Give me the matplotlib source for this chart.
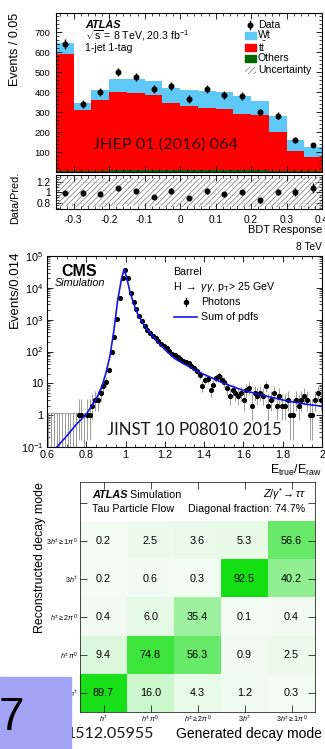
import numpy as np
import matplotlib
matplotlib.use('Agg')
import matplotlib.pyplot as plt
from matplotlib.colors import LinearSegmentedColormap
from matplotlib.patches import Rectangle
from matplotlib.lines import Line2D
from matplotlib.ticker import MultipleLocator, FixedLocator, NullFormatter, LogLocator

W, H = 325, 749

# ATLAS tW, BDT response in 1-jet 1-tag
bdt_edges = [-0.35, -0.30, -0.25, -0.20, -0.15, -0.10, -0.05, 0.0,
             0.05, 0.10, 0.15, 0.20, 0.25, 0.30, 0.35, 0.40]
bdt_others = [4, 4, 5, 12, 12, 12, 10, 8, 8, 8, 10, 12, 5, 4, 4]
bdt_ttbar = [586, 304, 355, 388, 383, 373, 335, 322, 312, 307, 280, 273, 195, 101, 71]
bdt_wt = [55, 37, 50, 65, 70, 70, 75, 80, 85, 85, 90, 70, 80, 55, 50]
bdt_data = [640, 340, 400, 500, 475, 415, 430, 365, 415, 385, 380, 300, 282, 160, 135]
bdt_unc = [0.27, 0.28, 0.28, 0.27, 0.27, 0.27, 0.28, 0.28, 0.28, 0.28, 0.28, 0.28, 0.28, 0.28, 0.30]
bdt_xlabels = ['-0.3', '-0.2', '-0.1', '0', '0.1', '0.2', '0.3', '0.4']

# CMS photon E_true/E_raw, 100 bins from 0.6 to 2.0
cms_counts = [0, 0, 0, 0, 0, 0, 0, 0, 0, 0,
              0, 1, 1, 0, 1, 1, 2, 3, 3, 5,
              8, 11, 27, 95, 290, 1050, 4800, 21000, 36000, 21000,
              7000, 3500, 2100, 1300, 880, 650, 490, 380, 315, 265,
              210, 175, 150, 125, 105, 85, 78, 68, 60, 52,
              46, 42, 36, 30, 24, 18, 8, 13, 14, 6,
              9, 15, 17, 13, 11, 7, 4, 6, 5, 4,
              5, 3, 6, 7, 2, 5, 4, 5, 4, 8,
              2, 3, 5, 2, 4, 2, 2, 3, 1, 1,
              3, 2, 3, 4, 3, 1, 1, 3, 5, 3]
cms_curve_x = [0.65, 0.70, 0.75, 0.80, 0.85, 0.88, 0.90, 0.92, 0.94, 0.96,
               0.98, 0.992, 1.005, 1.02, 1.04, 1.06, 1.08, 1.10, 1.15, 1.20,
               1.25, 1.30, 1.35, 1.40, 1.50, 1.60, 1.70, 1.80, 1.90, 2.00]
cms_curve_y = [0.1, 0.22, 0.52, 1.07, 3.2, 8.3, 21, 70, 430, 4200,
               20000, 38000, 22000, 8700, 3300, 1600, 950, 590, 250, 115,
               60, 40, 27, 19, 10, 6, 4.2, 3.0, 2.3, 1.9]
cms_xlabels = ['0.6', '0.8', '1', '1.2', '1.4', '1.6', '1.8', '2']
cms_ylabels = ['$10^{-1}$', '1', '10', '$10^{2}$', '$10^{3}$', '$10^{4}$', '$10^{5}$']

# ATLAS tau decay mode migration (rows: reconstructed, bottom to top)
modes = [r'$h^{\pm}$', r'$h^{\pm}\,\pi^{0}$', r'$h^{\pm}\geq2\pi^{0}$',
         r'$3h^{\pm}$', r'$3h^{\pm}\geq1\pi^{0}$']
migration = [[89.7, 16.0, 4.3, 1.2, 0.3],
             [9.4, 74.8, 56.3, 0.9, 2.5],
             [0.4, 6.0, 35.4, 0.1, 0.4],
             [0.2, 0.6, 0.3, 92.5, 40.2],
             [0.2, 2.5, 3.6, 5.3, 56.6]]

plt.rcParams['font.family'] = ['Liberation Sans', 'DejaVu Sans']
plt.rcParams['mathtext.fontset'] = 'custom'
plt.rcParams['mathtext.rm'] = 'Liberation Sans'
plt.rcParams['mathtext.it'] = 'Liberation Sans:italic'
plt.rcParams['mathtext.bf'] = 'Liberation Sans:bold'
plt.rcParams['axes.unicode_minus'] = False
plt.rcParams['hatch.linewidth'] = 0.5
plt.rcParams['axes.linewidth'] = 0.8

fig = plt.figure(figsize=(W / 100, H / 100), dpi=100)


def axes_px(x0, y0, x1, y1):
    return fig.add_axes([x0 / W, 1 - y1 / H, (x1 - x0) / W, (y1 - y0) / H])


def text_px(x, y, s, **kw):
    return fig.text(x / W, 1 - y / H, s, **kw)


def root_ticks(ax, size=6.5, pad=3.5):
    ax.tick_params(which='both', direction='in', top=True, right=True,
                   labelsize=size, pad=pad)
    ax.tick_params(which='major', length=4.5, width=0.6)
    ax.tick_params(which='minor', length=2.2, width=0.5)


# ---------------- top panel ----------------
edges = np.array(bdt_edges)
centers = 0.5 * (edges[1:] + edges[:-1])
oth = np.array(bdt_others, float)
tt = np.array(bdt_ttbar, float)
wt = np.array(bdt_wt, float)
data = np.array(bdt_data, float)
pred = oth + tt + wt

ax1 = axes_px(56, 13, 322, 172)
ax1.stairs(pred, edges, baseline=oth + tt, fill=True, color='#5ec8f6')
ax1.stairs(oth + tt, edges, baseline=oth, fill=True, color='#ff0000')
ax1.stairs(oth, edges, baseline=0, fill=True, color='#006600')
ax1.errorbar(centers, data, yerr=np.sqrt(data), fmt='o', color='k', ms=3.3,
             lw=1, capsize=0)
ax1.set_xlim(-0.35, 0.4)
ax1.set_ylim(0, 795)
ax1.xaxis.set_major_locator(MultipleLocator(0.1))
ax1.xaxis.set_minor_locator(MultipleLocator(0.02))
ax1.yaxis.set_major_locator(FixedLocator([100, 200, 300, 400, 500, 600, 700]))
ax1.yaxis.set_minor_locator(MultipleLocator(20))
root_ticks(ax1, 6.8, 4)
ax1.tick_params(labelbottom=False)
ax1.text(-0.04, 135, 'JHEP 01 (2016) 064', fontsize=11.7, family='Lato',
         color='#2a0000', ha='center', va='center')

text_px(85, 25, 'ATLAS', fontsize=7.8, weight='bold', style='italic', va='center')
text_px(85, 36, r'$\sqrt{\mathrm{s}}$ = 8 TeV, 20.3 fb$^{-1}$', fontsize=7.6, va='center')
text_px(85, 48, '1-jet 1-tag', fontsize=7.6, va='center')

leg_y = [25, 35, 47, 58, 70]
leg_lbl = ['Data', 'Wt', r'$\mathrm{t\bar{t}}$', 'Others', 'Uncertainty']
leg_col = [None, '#5ec8f6', '#ff0000', '#006600', None]
for yy, lb, col in zip(leg_y, leg_lbl, leg_col):
    text_px(258, yy, lb, fontsize=7.6, va='center')
    if lb == 'Data':
        fig.add_artist(Line2D([250 / W] * 2, [1 - (yy - 4) / H, 1 - (yy + 4) / H],
                              color='k', lw=1))
        fig.add_artist(Line2D([250 / W], [1 - yy / H], marker='o', ms=3.3, color='k'))
    elif col is not None:
        fig.add_artist(Rectangle((245 / W, 1 - (yy + 3.5) / H), 11 / W, 7 / H,
                                 transform=fig.transFigure, color=col))
    else:
        fig.add_artist(Rectangle((245 / W, 1 - (yy + 3.5) / H), 11 / W, 7 / H,
                                 transform=fig.transFigure, facecolor='none',
                                 edgecolor='#777777', hatch='//////', lw=0))

text_px(15, 13, 'Events / 0.05', fontsize=9, rotation=90, ha='center', va='top')

# ratio
ax2 = axes_px(56, 175, 322, 209)
unc = np.array(bdt_unc)
ax2.stairs(1 + unc, edges, baseline=1 - unc, fill=True, facecolor='none',
           edgecolor='#777777', hatch='//////', lw=0)
for lvl in (0.8, 1.2):
    ax2.axhline(lvl, color='#aaaaaa', lw=0.6, ls=':')
ratio = data / pred
ax2.errorbar(centers, ratio, yerr=np.sqrt(data) / pred, fmt='o', color='k',
             ms=3.3, lw=1, capsize=0)
ax2.set_xlim(-0.35, 0.4)
ax2.set_ylim(0.68, 1.33)
ax2.set_xticks([-0.3, -0.2, -0.1, 0, 0.1, 0.2, 0.3, 0.4], bdt_xlabels)
ax2.xaxis.set_minor_locator(MultipleLocator(0.02))
ax2.set_yticks([0.8, 1.0, 1.2], ['0.8', '1', '1.2'])
ax2.yaxis.set_minor_locator(MultipleLocator(0.05))
root_ticks(ax2, 7.3, 4)
text_px(15, 198, 'Data/Pred.', fontsize=7.8, rotation=90, ha='center', va='center')
text_px(322, 230, 'BDT Response', fontsize=7.9, ha='right', va='center')

# ---------------- middle panel ----------------
counts = np.array(cms_counts, float)
cedges = np.linspace(0.6, 2.0, len(counts) + 1)
ccent = 0.5 * (cedges[1:] + cedges[:-1])
nz = counts > 0
n = counts[nz]
lo = n * (1 - 1 / (9 * n) - 1 / (3 * np.sqrt(n))) ** 3
hi = (n + 1) * (1 - 1 / (9 * (n + 1)) + 1 / (3 * np.sqrt(n + 1))) ** 3

ax3 = axes_px(47, 256, 322, 447)
ax3.set_yscale('log')
ax3.vlines(ccent[nz], np.maximum(lo, 0.1), hi, color='#8c8c8c', lw=0.6)
ax3.vlines(ccent[~nz], 0.1, 1.15, color='#8c8c8c', lw=0.6)
ax3.hlines(np.full((~nz).sum(), 1.15), cedges[:-1][~nz], cedges[1:][~nz],
           color='#8c8c8c', lw=0.6)
ax3.plot(ccent[nz], n, 'o', color='k', ms=2.7, zorder=3)
ax3.plot(cms_curve_x, cms_curve_y, color='#1414e6', lw=1.2, zorder=4)
ax3.set_xlim(0.6, 2.0)
ax3.set_ylim(0.1, 1e5)
ax3.set_xticks([0.6, 0.8, 1.0, 1.2, 1.4, 1.6, 1.8, 2.0], cms_xlabels)
ax3.xaxis.set_minor_locator(MultipleLocator(0.05))
ax3.set_yticks([0.1, 1, 10, 1e2, 1e3, 1e4, 1e5], cms_ylabels)
ax3.yaxis.set_minor_locator(LogLocator(subs=np.arange(2, 10), numticks=20))
ax3.yaxis.set_minor_formatter(NullFormatter())
root_ticks(ax3, 7.8, 2.5)
ax3.text(1.35, 0.34, 'JINST 10 P08010 2015', fontsize=12.2, family='Lato',
         color='#1a1a1a', ha='center', va='center')

text_px(61, 271, 'CMS', fontsize=11.5, weight='bold', va='center')
text_px(55, 283, 'Simulation', fontsize=7.8, style='italic', va='center')
text_px(322, 247, '8 TeV', fontsize=7.3, ha='right', va='center')
text_px(173, 272, 'Barrel', fontsize=7.7, va='center')
text_px(173, 287, r'H $\rightarrow$ $\gamma\gamma$, p$_{\rm T}$> 25 GeV', fontsize=7.7, va='center')
text_px(201, 302, 'Photons', fontsize=7.7, va='center')
text_px(201, 317, 'Sum of pdfs', fontsize=7.7, va='center')
fig.add_artist(Line2D([186 / W] * 2, [1 - 298 / H, 1 - 306 / H], color='k', lw=0.8))
fig.add_artist(Line2D([186 / W], [1 - 302 / H], marker='o', ms=3, color='k'))
fig.add_artist(Line2D([174 / W, 197 / W], [1 - 317 / H] * 2, color='#1414e6', lw=1.2))
text_px(15, 250, 'Events/0.014', fontsize=9.5, rotation=90, ha='center', va='top')
text_px(322, 470, r'E$_{\rm true}$/E$_{\rm raw}$', fontsize=9, ha='right', va='center')

# ---------------- bottom panel ----------------
mat = np.array(migration)
cmap = LinearSegmentedColormap.from_list('greens_root', ['#f3fcf3', '#00dc00'])
ax4 = axes_px(80, 482, 315, 712)
ax4.imshow(mat, cmap=cmap, vmin=0, vmax=100, origin='lower',
           extent=(-0.5, 4.5, -0.5, 4.5), aspect='auto')
for i in range(mat.shape[0]):
    for j in range(mat.shape[1]):
        ax4.text(j, i, f'{mat[i, j]:.1f}', ha='center', va='center', fontsize=7.8)
ax4.set_xlim(-0.5, 4.5)
ax4.set_ylim(-0.5, 5.55)
ax4.set_xticks(range(5), modes)
ax4.set_yticks(range(6), modes + [''])
ax4.tick_params(which='both', direction='in', top=True, right=True,
                labelsize=5.2, pad=1.5, length=5, width=0.5)
for sp in ax4.spines.values():
    sp.set_linewidth(0.5)
ax4.text(-0.25, 5.22, 'ATLAS', fontsize=7.8, weight='bold', style='italic', va='center')
ax4.text(0.5, 5.22, ' Simulation', fontsize=7.8, va='center')
ax4.text(4.3, 5.22, r'$Z/\gamma^{*}\!\rightarrow\tau\tau$', fontsize=7.8, ha='right', va='center')
ax4.text(-0.25, 4.85, 'Tau Particle Flow', fontsize=7.7, va='center')
ax4.text(4.3, 4.85, 'Diagonal fraction: 74.7%', fontsize=7.7, ha='right', va='center')
text_px(40, 558, 'Reconstructed decay mode', fontsize=8.9, rotation=90,
        ha='center', va='center')
text_px(322, 734, 'Generated decay mode', fontsize=10, ha='right', va='center')
text_px(67, 734, '1512.05955', fontsize=11.5, family='Lato', color='#1a1a1a',
        va='center', zorder=3)

fig.add_artist(Rectangle((0, 0), 71 / W, (H - 677) / H, transform=fig.transFigure,
                         color='#a4a4f6', zorder=5))
text_px(-1, 730, '7', fontsize=33, va='baseline', zorder=6)

fig.savefig('out.png', dpi=100)
